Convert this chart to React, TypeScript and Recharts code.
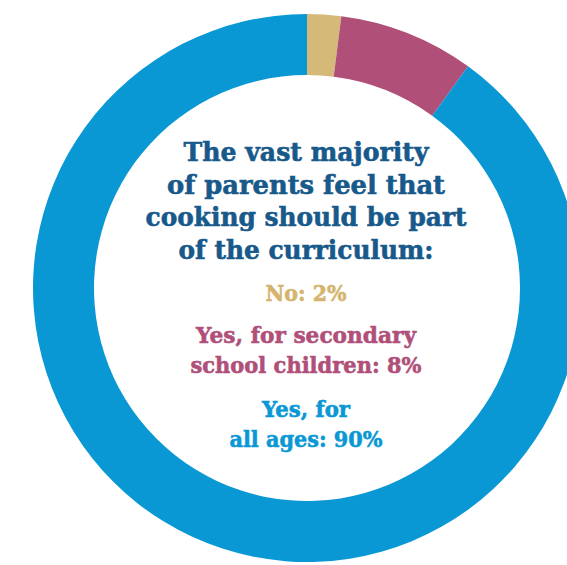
import { Cell, Pie, PieChart } from 'recharts'

const categories = ['No', 'Yes, for secondary school children', 'Yes, for all ages']
const shares = [2, 8, 90]
const colors = ['#D4B978', '#B05079', '#0A98D5']

const titleLines = ['The vast majority', 'of parents feel that', 'cooking should be part', 'of the curriculum:']
const noLines = ['No: 2%']
const secondaryLines = ['Yes, for secondary', 'school children: 8%']
const allAgesLines = ['Yes, for', 'all ages: 90%']

const data = categories.map((name, i) => ({ name, value: shares[i] }))

const W = 567
const H = 565

const font = '"DejaVu Serif", serif'

function Line({ y, text, color, size, width }: { y: number; text: string; color: string; size: number; width: number }) {
  return (
    <text
      x={306}
      y={y}
      textAnchor="middle"
      fill={color}
      fontFamily={font}
      fontWeight="bold"
      fontSize={size}
      textLength={width}
      lengthAdjust="spacingAndGlyphs"
      stroke={color}
      strokeWidth={0.6}
    >
      {text}
    </text>
  )
}

export default function App() {
  return (
    <div style={{ position: 'absolute', left: 0, top: 0, width: W, height: H, background: '#fff' }}>
      <PieChart width={W} height={H} margin={{ top: 0, right: 0, bottom: 0, left: 0 }}>
        <Pie
          data={data}
          dataKey="value"
          nameKey="name"
          cx={307}
          cy={288}
          innerRadius={213}
          outerRadius={274}
          startAngle={90}
          endAngle={-270}
          stroke="none"
          isAnimationActive={false}
        >
          {data.map((d, i) => (
            <Cell key={d.name} fill={colors[i]} />
          ))}
        </Pie>
      </PieChart>
      <svg width={W} height={H} style={{ position: 'absolute', left: 0, top: 0 }}>
        {titleLines.map((t, i) => (
          <Line key={t} y={161 + i * 32.5} text={t} color="#17598A" size={26} width={[245, 278, 321, 255][i]} />
        ))}
        <Line y={301} text={noLines[0]} color="#D4B46E" size={23} width={81} />
        {secondaryLines.map((t, i) => (
          <Line key={t} y={343 + i * 30} text={t} color="#B0507A" size={23} width={[220, 231][i]} />
        ))}
        {allAgesLines.map((t, i) => (
          <Line key={t} y={417 + i * 30} text={t} color="#0A98D5" size={23} width={[88, 153][i]} />
        ))}
      </svg>
    </div>
  )
}
